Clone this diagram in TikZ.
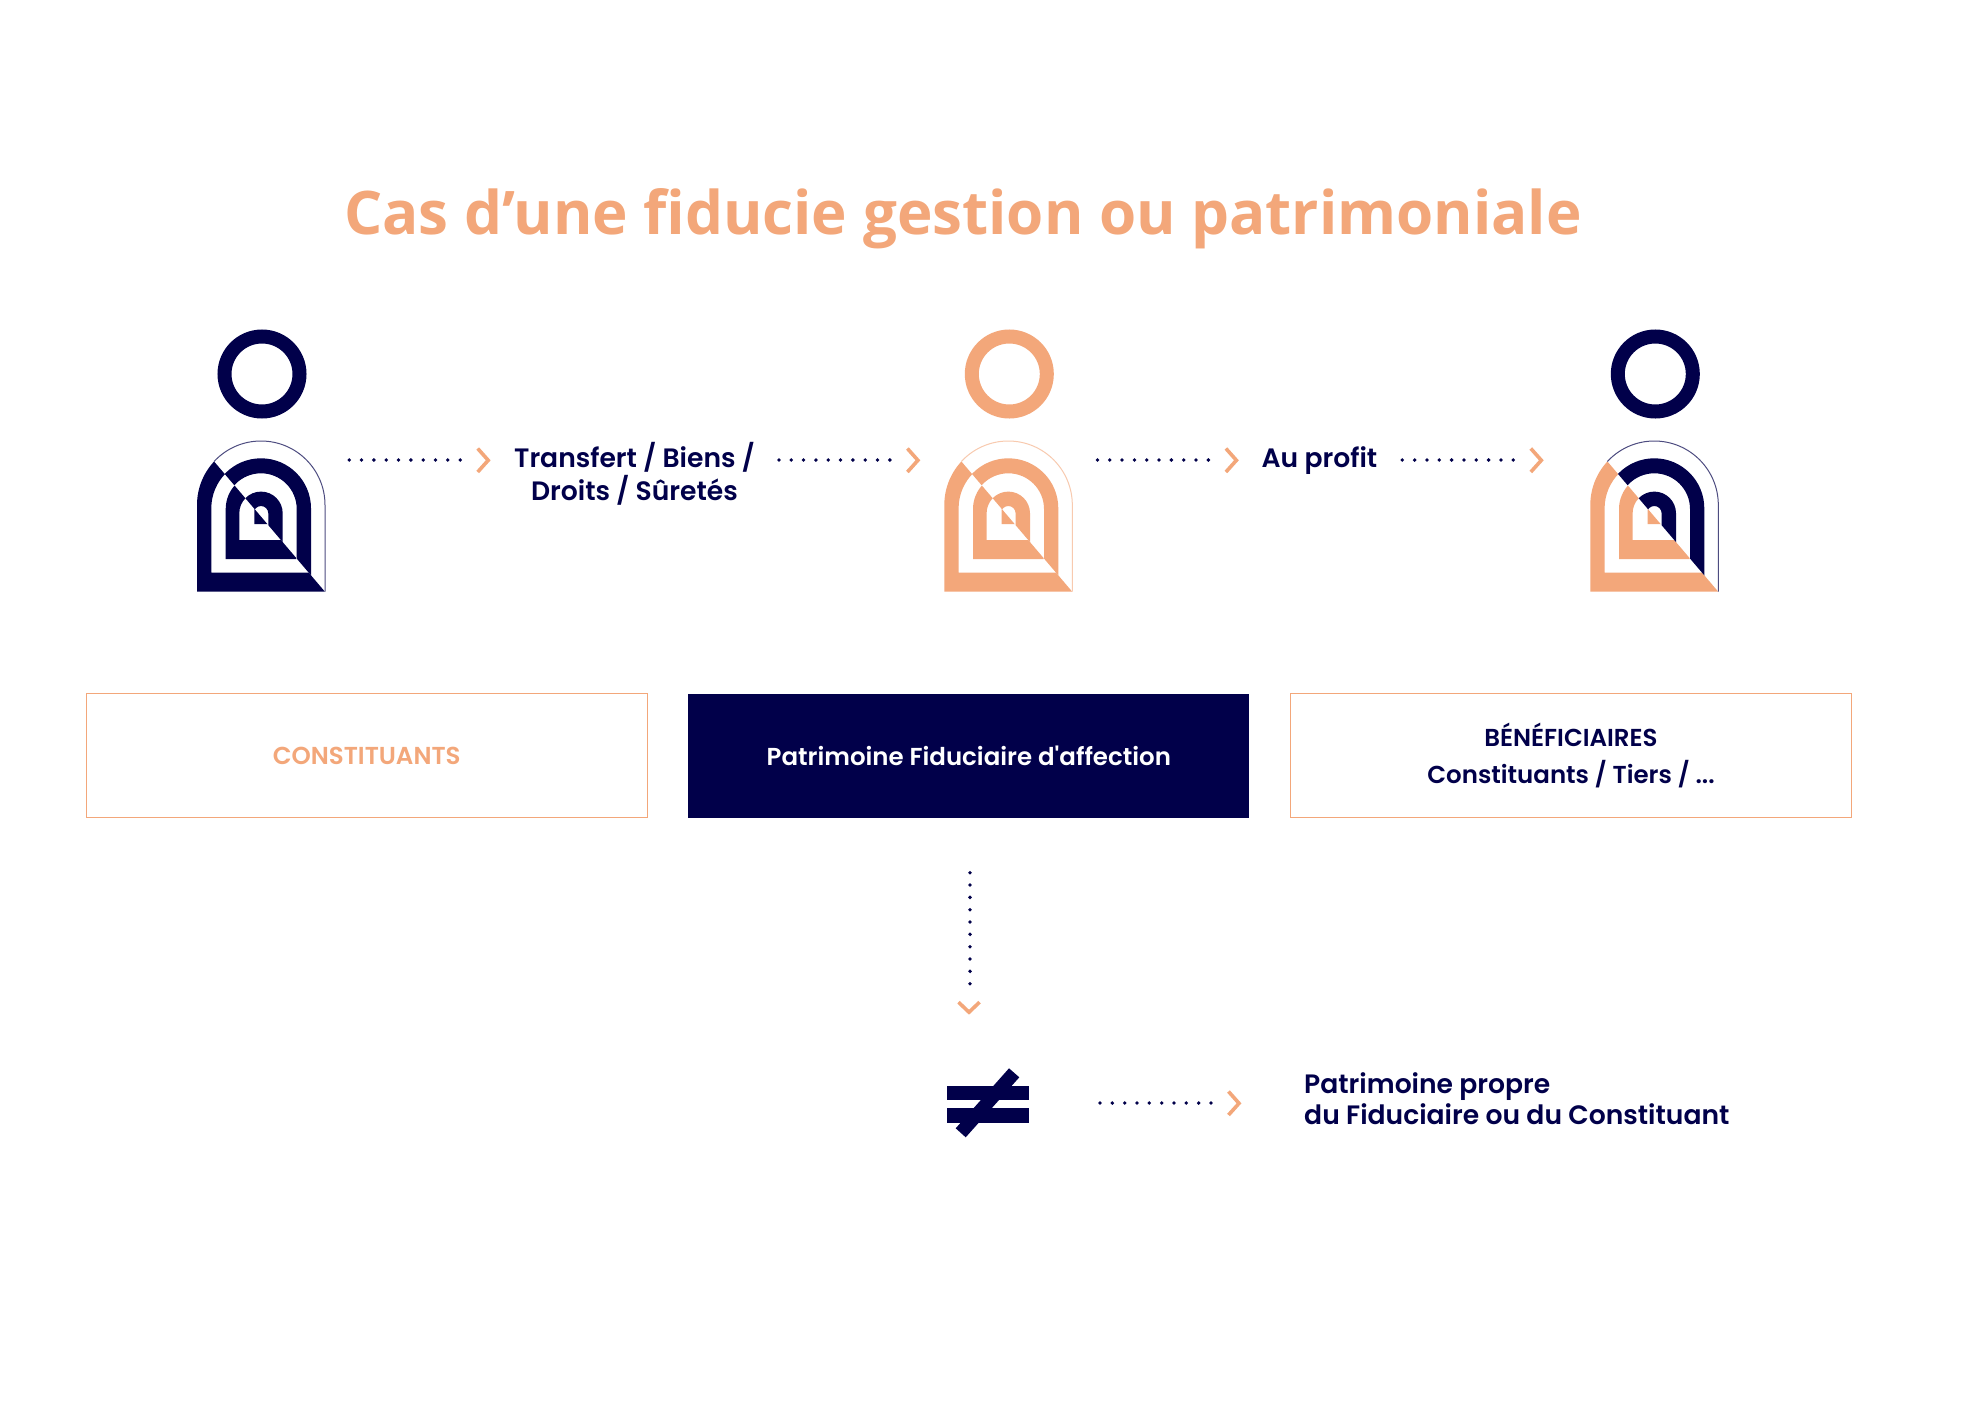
\documentclass[tikz,border=0pt]{standalone}
\usepackage{fontspec}
\setmainfont{Poppins}[BoldFont={Poppins SemiBold}]
\newfontfamily\popplain{Poppins}[BoldFont={Poppins SemiBold}]
\newfontfamily\titlefont{Open Sans}
\definecolor{navy}{HTML}{01004A}
\definecolor{peach}{HTML}{F3A77A}
\newcommand{\archp}[4]{(#1-#2,#4) -- (#1-#2,#3) arc[start angle=180,end angle=360,radius=#2] -- (#1+#2,#4) -- cycle}
\newcommand{\personicon}[6]{%
 \begin{scope}[shift={(#1,#2)}]
  \draw[line width=14pt,draw=#6] (65,-217.7) circle[radius=37.5];
  \begin{scope}
   \clip (-60,-220.8) -- (188,70.6) -- (-60,70.6) -- cycle;
   \fill[#3,even odd rule] \archp{64}{64}{-86.7}{0} \archp{64}{49.7}{-83.4}{-19};
   \fill[#3,even odd rule] \archp{64}{35.3}{-82.7}{-32.7} \archp{64}{21.7}{-78.4}{-51.7};
   \fill[#3] \archp{64}{6.7}{-81.7}{-67.7};
  \end{scope}
  \begin{scope}
   \clip (-60,-220.8) -- (188,70.6) -- (188,-220.8) -- cycle;
   \draw[#5,line width=1pt] (0,0) -- (0,-86.7) arc[start angle=180,end angle=360,radius=64] -- (128,0);
   \fill[#4,even odd rule] \archp{64}{50}{-83.4}{0} \archp{64}{35.7}{-82.7}{0};
   \fill[#4,even odd rule] \archp{64}{21.7}{-78.4}{0} \archp{64}{7.3}{-78.4}{0};
  \end{scope}
 \end{scope}}
\tikzset{
 dots/.style={navy,line width=3.8pt,line cap=round,dash pattern=on 0pt off 12.33pt},
 chev/.style={peach,line width=3.6pt,line join=miter},
 boxnode/.style={minimum width=561pt,minimum height=124pt,inner sep=0pt,font=\bfseries\fontsize{24.5}{37.5}\selectfont,align=center},
 lab/.style={navy,font=\bfseries\fontsize{26.6}{32.5}\selectfont,align=center,inner sep=0pt},
}
\begin{document}
\begin{tikzpicture}[x=1pt,y=-1pt]
\useasboundingbox (0,0) rectangle (1962,1402);
\fill[white] (0,0) rectangle (1962,1402);
\node[peach,font=\titlefont\bfseries\fontsize{60.1}{70}\selectfont,inner sep=0pt] (title) at (963,219) {Cas d’une fiducie gestion ou patrimoniale};
\personicon{197}{591.7}{navy}{navy}{navy!70}{navy}
\personicon{944.3}{591.7}{peach}{peach}{peach!60}{peach}
\personicon{1590.3}{591.7}{peach}{navy}{navy!70}{navy}
\node[boxnode,draw=peach,line width=1pt,text=peach] (b1) at (366.7,755.5) {CONSTITUANTS};
\node[boxnode,fill=navy,text=white] (b2) at (968.8,755.5) {\popplain\bfseries Patrimoine Fiduciaire d'affection};
\node[boxnode,draw=peach,line width=1pt,text=navy] (b3) at (1571,755.5) {BÉNÉFICIAIRES\\Constituants / Tiers / ...};
\node[lab] (t1) at (634.5,474) {Transfert / Biens /\\Droits / Sûretés};
\node[lab] (t2) at (1319.4,460.5) {Au profit};
\node[lab,align=left,anchor=west,font=\bfseries\fontsize{26.6}{31.3}\selectfont] (t3) at (1304,1098.5) {Patrimoine propre\\du Fiduciaire ou du Constituant};
% connectors
\foreach \x/\y/\n in {349.2/460/a,778.9/460/b,1097.4/460/c,1402.3/460/d,1100/1103/e}{
 \coordinate (\n s) at (\x,\y);
 \coordinate (\n e) at (\x+111,\y);
 \draw[dots] (\n s) -- (\n e);
 \draw[chev] ([xshift=128.5pt,yshift=11.5pt]\n s) -- ([xshift=139pt,yshift=-.3pt]\n s) -- ([xshift=128.5pt,yshift=-12pt]\n s);
}
\coordinate (vs) at (970,872.7);
\coordinate (ve) at (970,983.7);
\draw[dots] (vs) -- (ve);
\draw[chev] ([xshift=-11.5pt,yshift=-129.5pt]vs) -- ([xshift=-1pt,yshift=-139.5pt]vs) -- ([xshift=9.5pt,yshift=-129.5pt]vs);
% not equal
\fill[navy] (946.7,1086) rectangle (1028.7,1100.3);
\fill[navy] (946.7,1108.3) rectangle (1028.7,1122.7);
\fill[navy] (1009,1068.3) -- (1019.3,1077.3) -- (965.7,1137.3) -- (955.7,1128.3) -- cycle;
\end{tikzpicture}
\end{document}
